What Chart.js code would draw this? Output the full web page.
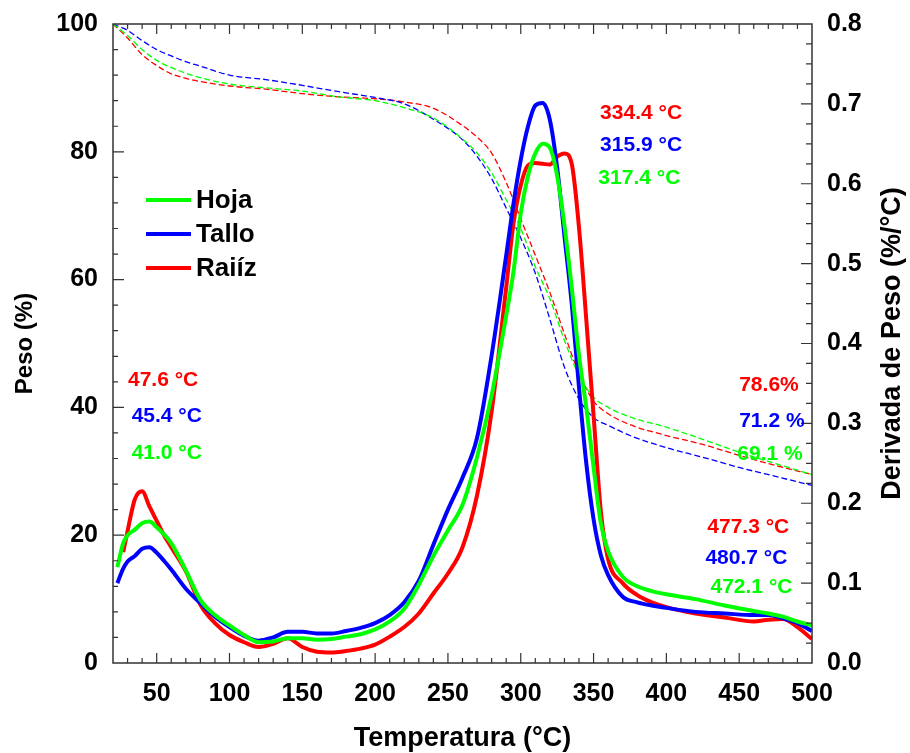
<!DOCTYPE html>
<html>
<head>
<meta charset="utf-8">
<script src="https://cdn.jsdelivr.net/npm/chart.js@4.4.1/dist/chart.umd.min.js"></script>
<style>
  body { margin: 0; background: #fff; }
  #wrap { width: 910px; height: 753px; }
</style>
</head>
<body>
<div id="wrap"><canvas id="tgaChart"></canvas></div>
<script>
// Temperatures (°C) for the weight curves (TG, dashed, left axis)
const tempTG = [20, 30, 40, 50, 60, 70, 80, 100, 125, 150, 175, 200, 220, 240, 260, 270, 280, 290,
  300, 310, 320, 330, 340, 350, 360, 375, 400, 425, 450, 475, 500];
const hojaTG = [100, 98.2, 96.0, 94.3, 93.2, 92.3, 91.6, 90.6, 90.0, 89.5, 88.6, 88.0, 86.9, 85.3, 82.0, 79.8, 76.7, 72.5,
  68.0, 62.0, 57.0, 50.5, 45.0, 41.6, 40.0, 38.5, 36.9, 35.0, 33.0, 31.2, 29.5];
const talloTG = [100, 99.0, 97.4, 96.0, 95.0, 94.1, 93.4, 92.0, 91.3, 90.4, 89.4, 88.5, 87.5, 85.1, 81.9, 79.3, 75.8, 71.2,
  66.5, 61.0, 53.8, 46.3, 41.3, 38.4, 37.2, 35.6, 33.7, 32.2, 30.6, 29.2, 27.8];
const raizTG = [100, 97.8, 95.2, 93.5, 92.2, 91.5, 91.0, 90.3, 89.8, 89.1, 88.6, 88.3, 87.8, 86.8, 84.1, 82.3, 79.8, 75.2,
  69.5, 63.8, 58.0, 51.5, 45.3, 41.0, 39.0, 37.3, 35.6, 34.2, 32.5, 30.9, 29.5];

// Temperatures (°C) for the derivative curves (DTG, solid, right axis)
const tempDTG = [23, 27, 30, 35, 40, 45, 50, 55, 60, 70, 80, 90, 100, 110, 120, 130, 140, 150, 160, 170, 180, 190,
  200, 210, 220, 230, 240, 250, 260, 270, 280, 290, 295, 300, 305, 310, 315, 320, 325, 330, 335, 340, 345, 350,
  355, 360, 370, 380, 390, 400, 420, 440, 460, 470, 480, 490, 500];
const hojaDTG = [0.120, 0.150, 0.160, 0.167, 0.175, 0.177, 0.170, 0.161, 0.150, 0.116, 0.079, 0.060, 0.047, 0.035, 0.026, 0.027, 0.031, 0.031, 0.029, 0.030, 0.033, 0.036,
  0.042, 0.052, 0.068, 0.098, 0.134, 0.166, 0.198, 0.258, 0.335, 0.435, 0.490, 0.563, 0.610, 0.638, 0.650, 0.645, 0.610, 0.548, 0.470, 0.385, 0.320, 0.245,
  0.175, 0.140, 0.108, 0.096, 0.090, 0.086, 0.080, 0.072, 0.065, 0.062, 0.058, 0.052, 0.047];
const talloDTG = [0.100, 0.118, 0.127, 0.134, 0.143, 0.145, 0.138, 0.128, 0.117, 0.093, 0.075, 0.058, 0.045, 0.034, 0.028, 0.032, 0.039, 0.039, 0.037, 0.037, 0.040, 0.044,
  0.050, 0.060, 0.076, 0.103, 0.148, 0.192, 0.232, 0.282, 0.385, 0.510, 0.575, 0.630, 0.672, 0.698, 0.701, 0.680, 0.620, 0.535, 0.450, 0.345, 0.250, 0.180,
  0.135, 0.110, 0.083, 0.076, 0.072, 0.069, 0.064, 0.062, 0.060, 0.060, 0.056, 0.050, 0.040];
const raizDTG = [null, 0.139, 0.165, 0.205, 0.215, 0.196, 0.178, 0.160, 0.145, 0.115, 0.073, 0.050, 0.035, 0.026, 0.020, 0.024, 0.031, 0.020, 0.014, 0.013, 0.015, 0.018,
  0.023, 0.033, 0.045, 0.062, 0.087, 0.112, 0.145, 0.210, 0.315, 0.470, 0.550, 0.598, 0.623, 0.626, 0.625, 0.624, 0.634, 0.638, 0.625, 0.545, 0.430, 0.310,
  0.190, 0.130, 0.100, 0.085, 0.076, 0.070, 0.062, 0.057, 0.052, 0.054, 0.055, 0.045, 0.030];

const xTicks = [50, 100, 150, 200, 250, 300, 350, 400, 450, 500];
const seriesNames = ['Hoja', 'Tallo', 'Raiíz'];

const RED = '#ff0000', BLUE = '#0000ff', GREEN = '#00ff00';
const FONT = '"Liberation Sans", Arial, sans-serif';

// text notes: [text, temperature, peso, colour]
const notes = [
  ['47.6 °C', 30.3, 44.3, RED], ['45.4 °C', 32.8, 38.7, BLUE], ['41.0 °C', 32.8, 32.9, GREEN],
  ['334.4 °C', 354.5, 86.1, RED], ['315.9 °C', 354.5, 81.0, BLUE], ['317.4 °C', 353.3, 75.9, GREEN],
  ['78.6%', 450, 43.4, RED], ['71.2 %', 450, 37.8, BLUE], ['69.1 %', 448.7, 32.6, GREEN],
  ['477.3 °C', 428.1, 21.2, RED], ['480.7 °C', 426.8, 16.4, BLUE], ['472.1 °C', 430.3, 11.9, GREEN]
];

function pts(xs, ys) {
  return xs.map((x, i) => ({ x: x, y: ys[i] }));
}

function tgSet(data, color) {
  return { data: pts(tempTG, data), yAxisID: 'y', borderColor: color, borderWidth: 1.3,
    borderDash: [6, 3], pointRadius: 0, cubicInterpolationMode: 'monotone', order: 5 };
}
function dtgSet(data, color, order) {
  return { data: pts(tempDTG, data), yAxisID: 'y1', borderColor: color, borderWidth: 4,
    pointRadius: 0, cubicInterpolationMode: 'monotone', order: order };
}

// inward ticks, frame, titles, legend and notes
const decor = {
  id: 'decor',
  afterDatasetsDraw(chart) {
    const c = chart.ctx, a = chart.chartArea;
    const x = chart.scales.x, y = chart.scales.y, y1 = chart.scales.y1;
    c.save();
    c.strokeStyle = '#333';
    c.lineWidth = 1.5;
    c.strokeRect(a.left, a.top, a.right - a.left, a.bottom - a.top);
    c.lineWidth = 1.2;
    c.beginPath();
    for (let t = 30; t < 500; t += 10) {
      const px = x.getPixelForValue(t);
      const len = t % 50 === 0 ? 10 : 5;
      c.moveTo(px, a.bottom); c.lineTo(px, a.bottom - len);
      c.moveTo(px, a.top); c.lineTo(px, a.top + len);
    }
    for (let v = 4; v < 100; v += 4) {
      const py = y.getPixelForValue(v);
      const len = v % 20 === 0 ? 11 : 5;
      c.moveTo(a.left, py); c.lineTo(a.left + len, py);
    }
    for (let k = 1; k < 32; k++) {
      const py = y1.getPixelForValue(k * 0.025);
      const len = k % 4 === 0 ? 11 : 6;
      c.moveTo(a.right, py); c.lineTo(a.right - len, py);
    }
    c.stroke();

    // axis titles
    c.fillStyle = '#000';
    c.font = 'bold 27px ' + FONT;
    c.textAlign = 'center';
    c.textBaseline = 'middle';
    c.fillText('Temperatura (°C)', (a.left + a.right) / 2, 739);
    c.save();
    c.translate(25, (a.top + a.bottom) / 2);
    c.rotate(-Math.PI / 2);
    c.font = 'bold 24px ' + FONT;
    c.fillText('Peso (%)', 0, 0);
    c.restore();
    c.save();
    c.translate(893, (a.top + a.bottom) / 2);
    c.rotate(-Math.PI / 2);
    c.font = 'bold 27px ' + FONT;
    c.fillText('Derivada de Peso (%/°C)', 0, 0);
    c.restore();

    // legend
    const cols = [GREEN, BLUE, RED];
    const ly = [200, 234, 268];
    c.font = 'bold 26px ' + FONT;
    c.textAlign = 'left';
    seriesNames.forEach((n, i) => {
      c.strokeStyle = cols[i];
      c.lineWidth = 4;
      c.beginPath();
      c.moveTo(146, ly[i]); c.lineTo(191, ly[i]);
      c.stroke();
      c.fillStyle = '#000';
      c.fillText(n, 196, ly[i] + 1);
    });

    // notes
    c.font = 'bold 21px ' + FONT;
    notes.forEach(n => {
      c.fillStyle = n[3];
      c.fillText(n[0], x.getPixelForValue(n[1]), y.getPixelForValue(n[2]));
    });
    c.restore();
  }
};

const tickFont = { family: FONT, size: 25, weight: 'bold' };

function fitY(w) {
  return s => { s.width = w; s.paddingTop = 0; s.paddingBottom = 0; };
}

new Chart(document.getElementById('tgaChart'), {
  type: 'line',
  data: {
    datasets: [
      tgSet(hojaTG, GREEN), tgSet(talloTG, BLUE), tgSet(raizTG, RED),
      dtgSet(hojaDTG, GREEN, 1), dtgSet(talloDTG, BLUE, 2), dtgSet(raizDTG, RED, 3)
    ]
  },
  options: {
    responsive: true,
    maintainAspectRatio: false,
    animation: false,
    layout: { padding: { top: 24 } },
    plugins: { legend: { display: false }, tooltip: { enabled: false } },
    scales: {
      x: {
        type: 'linear', min: 20, max: 500,
        grid: { display: false }, border: { display: false },
        afterBuildTicks: s => { s.ticks = xTicks.map(v => ({ value: v })); },
        afterFit: s => { s.height = 90; s.paddingLeft = 0; s.paddingRight = 0; },
        ticks: { font: tickFont, color: '#000', padding: 8, maxRotation: 0 }
      },
      y: {
        position: 'left', min: 0, max: 100,
        grid: { display: false }, border: { display: false },
        afterFit: fitY(113),
        ticks: { stepSize: 20, font: tickFont, color: '#000', padding: 7 }
      },
      y1: {
        position: 'right', min: 0, max: 0.8,
        grid: { display: false }, border: { display: false },
        afterFit: fitY(98),
        ticks: { stepSize: 0.1, font: tickFont, color: '#000', padding: 7,
          callback: v => v.toFixed(1) }
      }
    }
  },
  plugins: [decor]
});
</script>
</body>
</html>
